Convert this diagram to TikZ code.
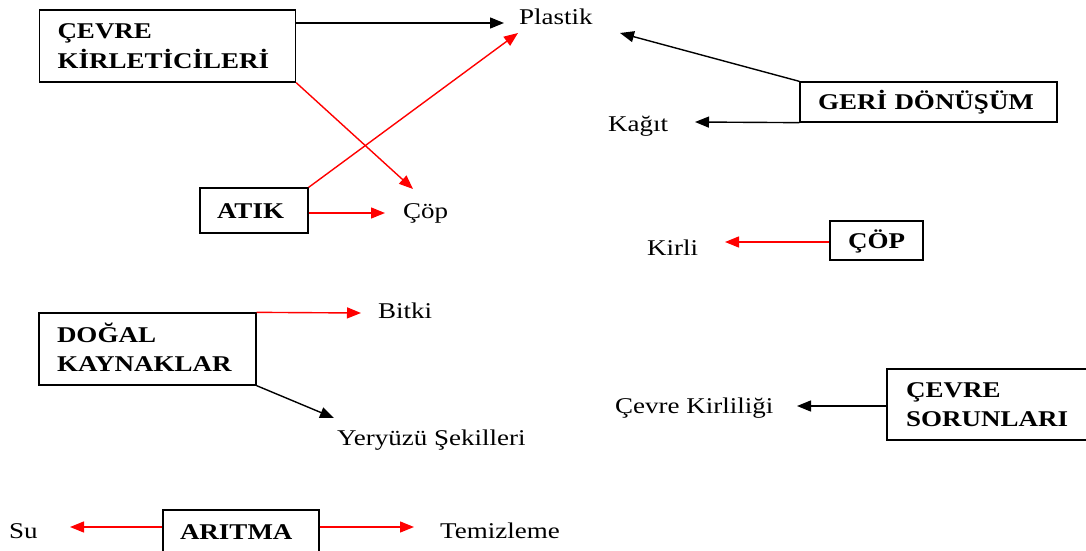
\documentclass[tikz,border=0pt]{standalone}
\usepackage{fontspec}
\setmainfont{Liberation Serif}[FakeStretch=1.2]
\usetikzlibrary{arrows.meta}

\tikzset{
  conn/.style={line width=1.4pt, -{Triangle[length=14pt,width=11pt]}},
  blackconn/.style={conn, draw=black},
  redconn/.style={conn, draw=red},
  % boxed concept, text set flush left
  concept/.style={draw=black, line width=1.3pt, rectangle, align=left,
    font=\fontsize{22.5}{29}\selectfont\bfseries, inner ysep=0pt},
  oneline/.style={concept, text height=15pt, text depth=0pt},
  twoline/.style={concept, text height=15pt, text depth=29pt},
  word/.style={anchor=base west, inner sep=0pt, font=\fontsize{22.5}{29}\selectfont},
}

\begin{document}
\begin{tikzpicture}[x=1pt, y=-1pt]
\useasboundingbox (0,0) rectangle (1086,551);

% concept boxes
\node[twoline, inner xsep=18pt, text width=220pt, minimum height=72pt]
  (kirl) at (167.5,46) {ÇEVRE\\KİRLETİCİLERİ};
\node[oneline, inner xsep=17pt, text width=74pt, minimum height=45pt]
  (atik) at (254,210.5) {ATIK};
\node[oneline, inner xsep=18pt, text width=221pt, minimum height=40pt]
  (geri) at (928.5,102) {GERİ DÖNÜŞÜM};
\node[oneline, inner xsep=0pt, text width=93pt, align=center, minimum height=39pt]
  (cop) at (876.5,240.5) {ÇÖP};
\node[twoline, inner xsep=18pt, text width=181pt, minimum height=72pt]
  (dogal) at (147.5,349) {DOĞAL\\KAYNAKLAR};
\node[oneline, inner xsep=17pt, text width=122pt, minimum height=44pt]
  (aritma) at (241,532) {ARITMA};
\node[twoline, inner xsep=19pt, text width=182pt, minimum height=71pt]
  (sorun) at (997,404.5) {ÇEVRE\\SORUNLARI};

% plain words
\node[word] (plastik) at (519,25)  {Plastik};
\node[word] (cop2)    at (403,218) {Çöp};
\node[word] (kagit)   at (608,131) {Kağıt};
\node[word] (kirli)   at (647,255) {Kirli};
\node[word] (bitki)   at (378,318) {Bitki};
\node[word] (yer)     at (337,445) {Yeryüzü Şekilleri};
\node[word] (su)      at (9,538)   {Su};
\node[word] (temiz)   at (440,538) {Temizleme};
\node[word] (kirlilik) at (615,413) {Çevre Kirliliği};

% arrow tips in front of the words
\coordinate (tPlastikA) at (504,23);
\coordinate (tPlastikB) at (518,33);
\coordinate (tPlastikC) at (620,33);
\coordinate (tCopA)     at (413,189);
\coordinate (tCopB)     at (385,213);
\coordinate (tKagit)    at (695,122);
\coordinate (tKirli)    at (725,242);
\coordinate (tBitki)    at (361,313);
\coordinate (tYer)      at (334,418);
\coordinate (tSu)       at (70,527);
\coordinate (tTemiz)    at (414,527);
\coordinate (tKirlilik) at (797,406);

% connectors
\draw[blackconn] (kirl.east |- tPlastikA) -- (tPlastikA);
\draw[redconn]   (kirl.south east) -- (tCopA);
\draw[redconn]   (atik.north east) -- (tPlastikB);
\draw[redconn]   (atik.east |- tCopB) -- (tCopB);
\draw[blackconn] (geri.north west) -- (tPlastikC);
\draw[blackconn] (geri.south west) -- (tKagit);
\draw[redconn]   (cop.west |- tKirli) -- (tKirli);
\draw[redconn]   (dogal.north east) -- (tBitki);
\draw[blackconn] (dogal.south east) -- (tYer);
\draw[redconn]   (aritma.west |- tSu) -- (tSu);
\draw[redconn]   (aritma.east |- tTemiz) -- (tTemiz);
\draw[blackconn] (sorun.west |- tKirlilik) -- (tKirlilik);
\end{tikzpicture}
\end{document}
